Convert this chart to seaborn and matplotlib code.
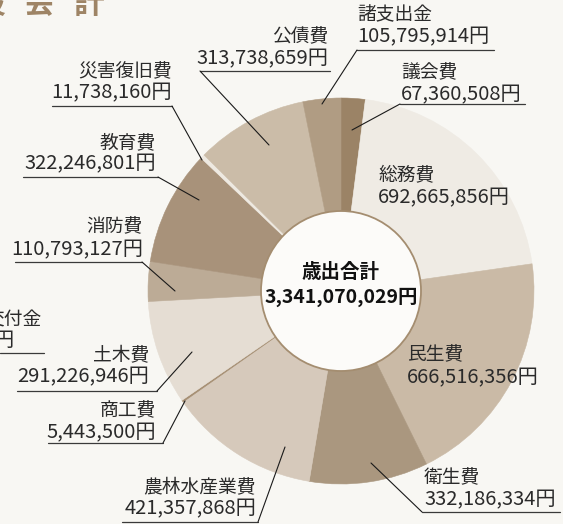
import matplotlib
matplotlib.use("Agg")
import matplotlib.pyplot as plt
import matplotlib.patches as mpatches
import seaborn as sns

# --- data -----------------------------------------------------------------
categories = ["議会費", "総務費", "民生費", "衛生費", "農林水産業費", "商工費",
              "土木費", "消防費", "教育費", "災害復旧費", "公債費", "諸支出金"]
amounts = [67360508, 692665856, 666516356, 332186334, 421357868, 5443500,
           291226946, 110793127, 322246801, 11738160, 313738659, 105795914]
slice_colors = ["#9b8366", "#efebe4", "#cabaa6", "#aa977f", "#d6c9bb", "#a58e72",
                "#e5ddd3", "#bcab96", "#a8927a", "#eee9e1", "#cbbca8", "#b09c83"]
center_title = "歳出合計"

# --- layout (pixel coords, y measured from the top) -------------------------
W, H = 563, 524
BG = "#f8f7f3"
CX, CY, R_OUT, R_IN = 341, 291, 193, 80

# name: (x, ha, name_y, value_y, underline (x0, x1, y) or None, leader end or None)
label_layout = {
    "議会費": (401, "left", 73, 95, (400, 525, 104), (352, 130)),
    "総務費": (378, "left", 175, 198, None, None),
    "民生費": (407, "left", 355, 378, None, None),
    "衛生費": (424, "left", 478, 500, (422, 560, 512), (371, 463)),
    "農林水産業費": (256, "right", 488, 509, (122, 258, 522), (285, 447)),
    "商工費": (156, "right", 411, 433, (48, 163, 443), (185, 401)),
    "土木費": (149, "right", 356, 377, (17, 157, 391), (192, 352)),
    "消防費": (143, "right", 227, 250, (15, 142, 262), (175, 291)),
    "教育費": (156, "right", 143, 164, (23, 158, 177), (199, 200)),
    "災害復旧費": (172, "right", 72, 93, (52, 172, 106), (202, 160)),
    "公債費": (328, "right", 37, 59, (200, 330, 71), (269, 145)),
    "諸支出金": (357, "left", 15, 37, (357, 494, 50), (322, 104)),
}


def Y(y):
    return H - y


sns.set_theme(style="white", rc={"figure.facecolor": BG, "axes.facecolor": BG})
plt.rcParams["font.family"] = ["Noto Sans CJK JP", "DejaVu Sans"]

fig = plt.figure(figsize=(W / 100, H / 100), dpi=100)
ax = fig.add_axes([0, 0, 1, 1])

ax.pie(amounts, colors=slice_colors, startangle=90, counterclock=False,
       radius=R_OUT, center=(CX, Y(CY)),
       wedgeprops={"linewidth": 0.4, "edgecolor": None})
# match edge colour to face to hide seams
for w, c in zip(ax.patches, slice_colors):
    w.set_edgecolor(c)

ax.add_patch(mpatches.Circle((CX, Y(CY)), R_IN, facecolor="#fcfbf9",
                             edgecolor="#a48d70", linewidth=1.3, zorder=5))

ax.set_xlim(0, W)
ax.set_ylim(0, H)
ax.set_aspect("equal", adjustable="box")
ax.axis("off")

txt_color = "#2a2a2a"
for name, value in zip(categories, amounts):
    x, ha, ny, vy, ul, end = label_layout[name]
    ax.text(x, Y(ny), name, ha=ha, va="center", fontsize=13.5, color=txt_color, zorder=6)
    ax.text(x, Y(vy), f"{value:,}円", ha=ha, va="center", fontsize=14.5, color=txt_color, zorder=6)
    if ul is not None:
        x0, x1, uy = ul
        ax.plot([x0, x1], [Y(uy), Y(uy)], color="#3a3a3a", linewidth=0.9, zorder=6)
        sx = x0 if ha == "left" or name == "公債費" else x1
        ax.plot([sx, end[0]], [Y(uy), Y(end[1])], color="#1a1a1a", linewidth=0.8, zorder=6)

# centre total
ax.text(CX, Y(273), center_title, ha="center", va="center", fontsize=14,
        fontweight="bold", color="#111111", zorder=7)
ax.text(CX, Y(297), f"{sum(amounts):,}円", ha="center", va="center", fontsize=14,
        fontweight="bold", color="#111111", zorder=7)

# cropped neighbours from the source page
ax.text(42, Y(320), "交付金", ha="right", va="center", fontsize=13.5, color=txt_color)
ax.text(13, Y(340), "円", ha="right", va="center", fontsize=14.5, color=txt_color)
ax.plot([0, 44], [Y(353), Y(353)], color="#3a3a3a", linewidth=0.9)
for ch, cx in zip("般会計", [-10, 38, 88]):
    ax.text(cx, Y(4), ch, ha="center", va="center", fontsize=22,
            fontweight="bold", color="#9e8465")

fig.savefig("out.png", dpi=100, facecolor=BG)
